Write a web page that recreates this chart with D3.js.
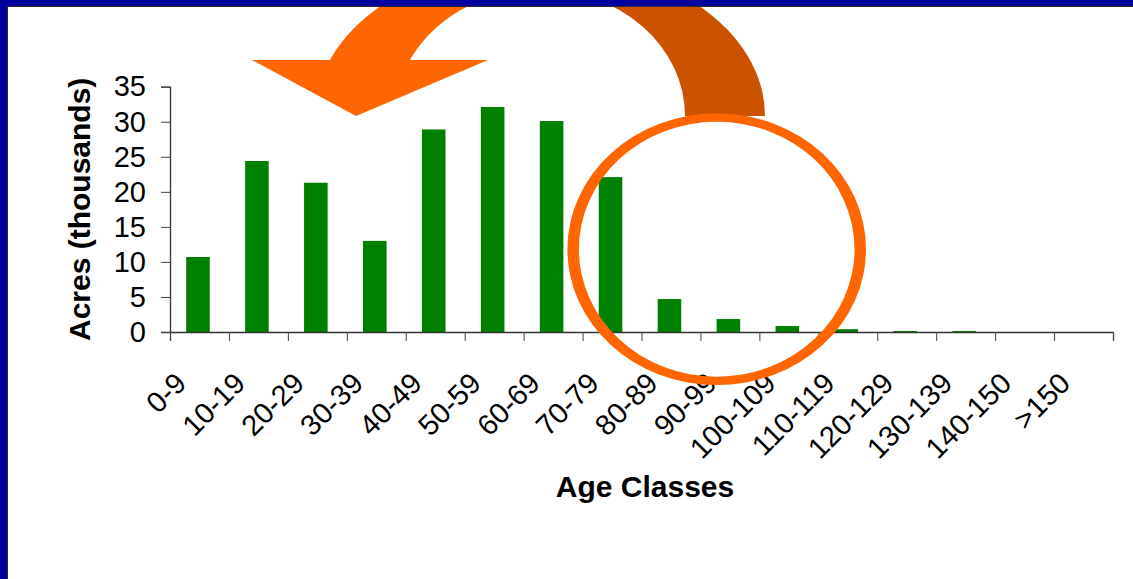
<!DOCTYPE html>
<html>
<head>
<meta charset="utf-8">
<script src="https://cdn.jsdelivr.net/npm/d3@7"></script>
<style>
  html, body { margin: 0; padding: 0; background: #fff; }
  svg { display: block; }
  text { font-family: "Liberation Sans", Arial, sans-serif; fill: #000; }
</style>
</head>
<body>
<svg id="chart" width="1133" height="579"></svg>
<script>
// Forest area by stand age class
const categories = ["0-9", "10-19", "20-29", "30-39", "40-49", "50-59", "60-69", "70-79",
                    "80-89", "90-99", "100-109", "110-119", "120-129", "130-139", "140-150", ">150"];
const acres = [10.7, 24.4, 21.3, 13.0, 28.9, 32.1, 30.1, 22.1,
               4.7, 1.85, 0.85, 0.4, 0.15, 0.15, 0, 0];   // thousands of acres
const yTicks = [0, 5, 10, 15, 20, 25, 30, 35];
const yTitle = "Acres (thousands)";
const xTitle = "Age Classes";

const svg = d3.select("#chart");
const W = 1133, H = 579;

svg.append("rect").attr("width", W).attr("height", H).attr("fill", "#fff");

const plot = { left: 170, right: 1113, top: 86.7, bottom: 332 };
const tickFont = 29;

const x = d3.scaleBand()
  .domain(categories)
  .range([plot.left, plot.right])
  .paddingInner(0.6)
  .paddingOuter(0.3);

const xEdges = d3.scaleLinear()
  .domain([0, categories.length])
  .range([plot.left, plot.right]);

const y = d3.scaleLinear()
  .domain([0, 35])
  .range([plot.bottom, plot.top]);

// bars
svg.append("g")
  .selectAll("rect")
  .data(acres)
  .join("rect")
  .attr("x", (d, i) => x(categories[i]) - 1.5)
  .attr("width", x.bandwidth())
  .attr("y", d => y(d))
  .attr("height", d => y(0) - y(d))
  .attr("fill", "#008000");

// y axis
const yAxis = svg.append("g")
  .attr("transform", `translate(${plot.left},0)`)
  .call(d3.axisLeft(y).tickValues(yTicks).tickSize(9).tickPadding(15).tickFormat(d3.format("d")));
yAxis.select(".domain").attr("stroke", "#333").attr("stroke-width", 1.3);
yAxis.selectAll(".tick line").attr("stroke", "#444");
yAxis.selectAll(".tick text").attr("font-size", tickFont).attr("fill", "#000");

// x axis: tick marks at category boundaries
const xAxis = svg.append("g")
  .attr("transform", `translate(0,${plot.bottom})`)
  .call(d3.axisBottom(xEdges).tickValues(d3.range(categories.length + 1)).tickSize(9).tickFormat(""));
xAxis.select(".domain").attr("stroke", "#333").attr("stroke-width", 1.3);
xAxis.selectAll(".tick line").attr("stroke", "#444");

// rotated category labels
svg.append("g")
  .selectAll("text")
  .data(categories)
  .join("text")
  .attr("transform", d => `translate(${x(d) + x.bandwidth() / 2 - 11.5},${plot.bottom + 53}) rotate(-45)`)
  .attr("text-anchor", "end")
  .attr("font-size", tickFont)
  .text(d => d);

// axis titles
svg.append("text")
  .attr("transform", `translate(90,${(plot.top + plot.bottom) / 2}) rotate(-90)`)
  .attr("text-anchor", "middle")
  .attr("font-size", 30)
  .attr("font-weight", "bold")
  .text(yTitle);

svg.append("text")
  .attr("x", 645)
  .attr("y", 497)
  .attr("text-anchor", "middle")
  .attr("font-size", 30)
  .attr("font-weight", "bold")
  .text(xTitle);

// ---- annotation: curved arrow sweeping from the old classes back to the young ones ----
function ellipsePath(cx, cy, a, b) {
  return `M${cx - a},${cy} A${a},${b} 0 1 0 ${cx + a},${cy} A${a},${b} 0 1 0 ${cx - a},${cy} Z`;
}
const arc = { cx: 540, cy: 116, outerA: 225, outerB: 156, innerA: 145, innerB: 126.5 };
const ringD = ellipsePath(arc.cx, arc.cy, arc.outerA, arc.outerB) + " " +
              ellipsePath(arc.cx, arc.cy, arc.innerA, arc.innerB);

const defs = svg.append("defs");
defs.append("clipPath").attr("id", "clipFront")
  .append("rect").attr("x", 0).attr("y", 0).attr("width", arc.cx).attr("height", 60);
defs.append("clipPath").attr("id", "clipBack")
  .append("rect").attr("x", arc.cx).attr("y", 0).attr("width", W - arc.cx).attr("height", arc.cy);

svg.append("path")
  .attr("d", ringD)
  .attr("fill-rule", "evenodd")
  .attr("fill", "#CC5200")
  .attr("clip-path", "url(#clipBack)");

svg.append("path")
  .attr("d", ringD)
  .attr("fill-rule", "evenodd")
  .attr("fill", "#FF6600")
  .attr("clip-path", "url(#clipFront)");

// arrow head
svg.append("path")
  .attr("d", "M252,60 L488,60 L356,116 Z")
  .attr("fill", "#FF6600");

// ring highlighting the scarce old age classes
const ring = { cx: 716.7, cy: 249.2, outerA: 149.3, outerB: 135.8, innerA: 137.8, innerB: 127.5 };
svg.append("path")
  .attr("d", ellipsePath(ring.cx, ring.cy, ring.outerA, ring.outerB) + " " +
             ellipsePath(ring.cx, ring.cy, ring.innerA, ring.innerB))
  .attr("fill-rule", "evenodd")
  .attr("fill", "#FF6600");

// slide frame: blue band along the top and left edges
svg.append("rect").attr("x", 0).attr("y", 0).attr("width", W).attr("height", 7).attr("fill", "#00009C");
svg.append("rect").attr("x", 0).attr("y", 0).attr("width", 8).attr("height", H).attr("fill", "#00009C");
svg.append("rect").attr("x", 8).attr("y", 6).attr("width", W - 8).attr("height", 1).attr("fill", "#2a2a2a");
svg.append("rect").attr("x", 7).attr("y", 6).attr("width", 1).attr("height", H - 6).attr("fill", "#2a2a2a");
</script>
</body>
</html>
